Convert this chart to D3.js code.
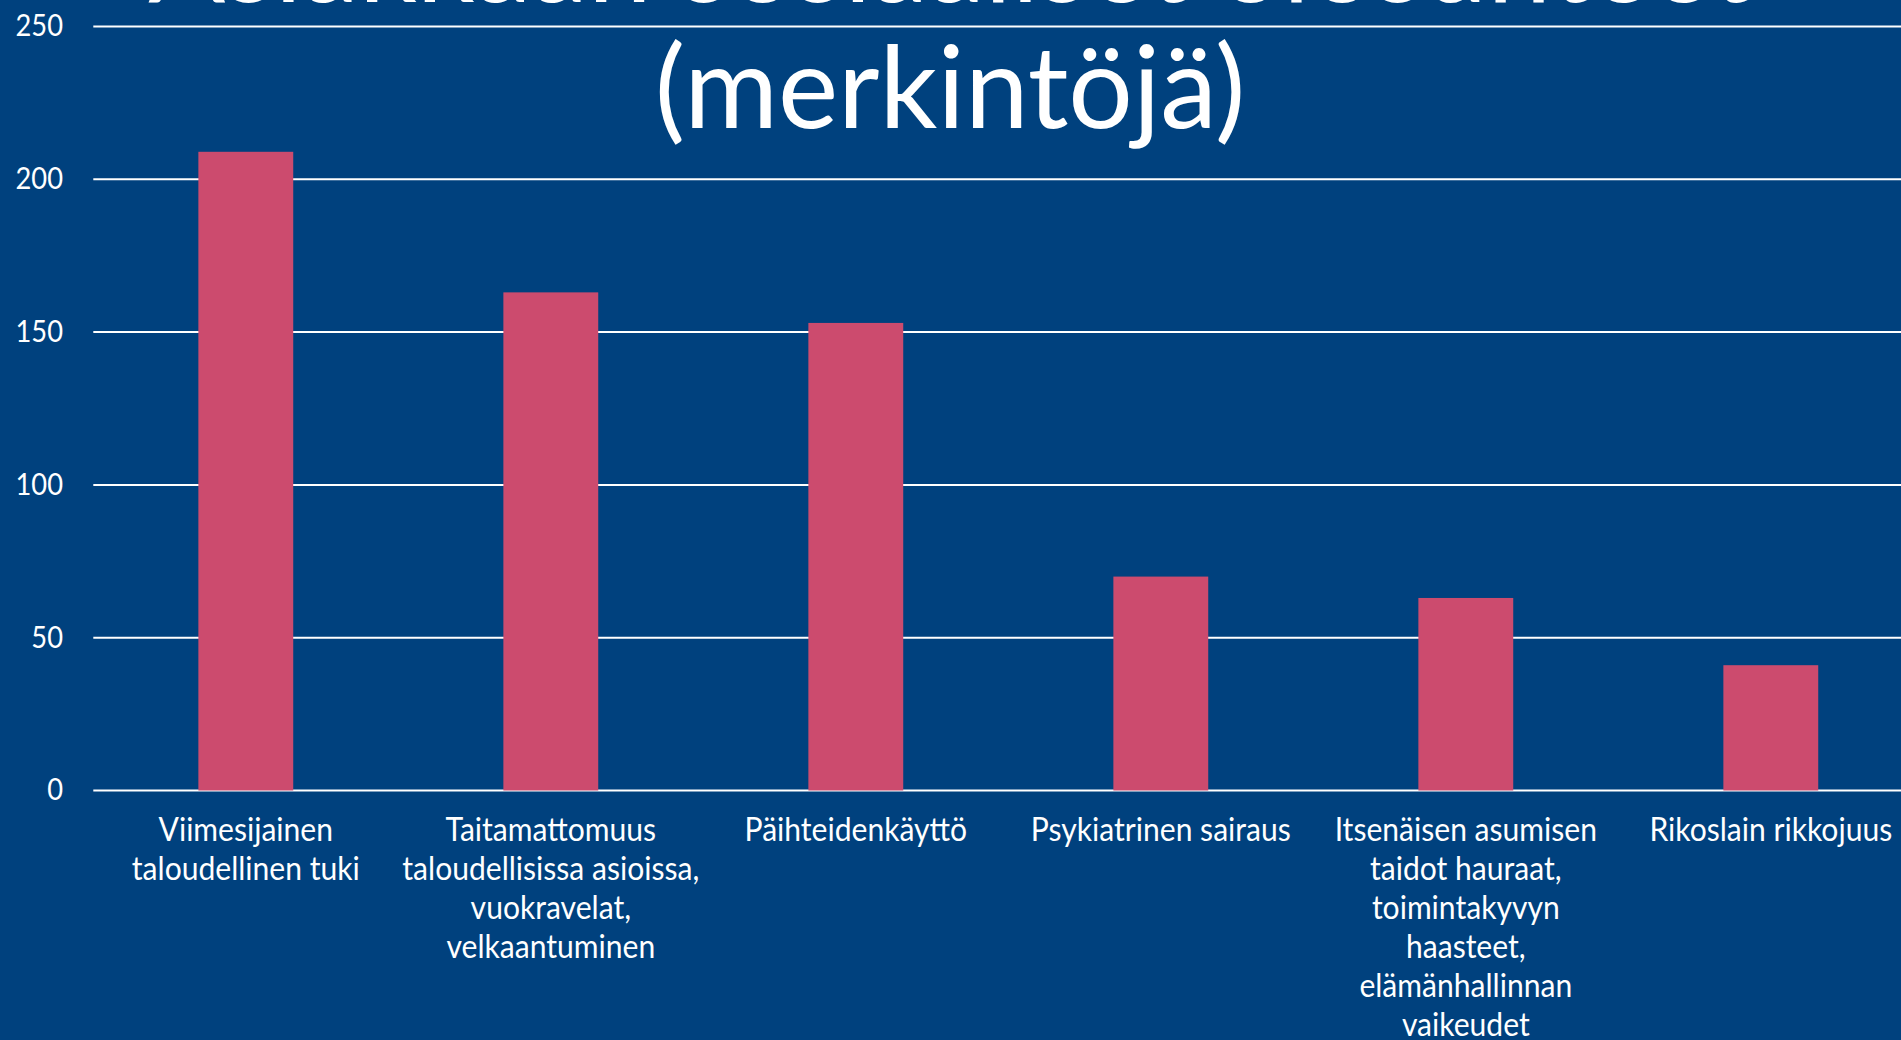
<!DOCTYPE html>
<html>
<meta charset="utf-8">
<head>
<title>Asiakkaan sosiaaliset olosuhteet</title>
<style>
body { margin: 0; background: #00417e; overflow: hidden; }
svg { display: block; }
text { font-family: Lato, "Open Sans", sans-serif; fill: #fff; }
.grid line { stroke: #fff; stroke-width: 2px; }
.bar { fill: #cc4b6e; }
</style>
</head>
<body>
<script src="https://d3js.org/d3.v7.min.js"></script>
<script>

// data
var categories = ["Viimesijainen taloudellinen tuki",
                  "Taitamattomuus taloudellisissa asioissa, vuokravelat, velkaantuminen",
                  "Päihteidenkäyttö",
                  "Psykiatrinen sairaus",
                  "Itsenäisen asumisen taidot hauraat, toimintakyvyn haasteet, elämänhallinnan vaikeudet",
                  "Rikoslain rikkojuus"];
var values = [209, 163, 153, 70, 63, 41];
var labelLines = [["Viimesijainen", "taloudellinen tuki"],
                  ["Taitamattomuus", "taloudellisissa asioissa,", "vuokravelat,", "velkaantuminen"],
                  ["Päihteidenkäyttö"],
                  ["Psykiatrinen sairaus"],
                  ["Itsenäisen asumisen", "taidot hauraat,", "toimintakyvyn", "haasteet,", "elämänhallinnan", "vaikeudet"],
                  ["Rikoslain rikkojuus"]];
var yTicks = [0, 50, 100, 150, 200, 250];
var titleLines = ["Asiakkaan sosiaaliset olosuhteet", "(merkintöjä)"];

var width = 1901, height = 1040;
var left = 93.3, right = 1923.3, y0 = 790.5, yTop = 26.5;

var x = d3.scaleBand().domain(categories).range([left, right])
          .paddingInner(0.689).paddingOuter(0.3445);
var y = d3.scaleLinear().domain([0, 250]).range([y0, yTop]);

var svg = d3.select("body").append("svg")
    .attr("width", width)
    .attr("height", height);

svg.append("rect").attr("width", width).attr("height", height).attr("fill", "#00417e");

// gridlines
var grid = svg.append("g").attr("class", "grid");
grid.selectAll("line").data(yTicks).enter().append("line")
    .attr("x1", left).attr("x2", width)
    .attr("y1", function(d){ return y(d); })
    .attr("y2", function(d){ return y(d); });

// y axis labels
svg.selectAll(".ytick").data(yTicks).enter().append("text")
    .attr("class", "ytick")
    .attr("transform", function(d){ return "translate(63," + y(d) + ") scale(0.88,1)"; })
    .attr("dy", "0.32em")
    .attr("text-anchor", "end")
    .style("font-size", "31px")
    .text(function(d){ return d; });

// title (first line is clipped at the top of the picture)
var title = svg.append("g").attr("transform", "translate(950,0)");
title.append("text")
    .attr("y", 2)
    .attr("text-anchor", "middle")
    .style("font-size", "114px")
    .text(titleLines[0]);
title.append("text")
    .attr("y", 128)
    .attr("text-anchor", "middle")
    .style("font-size", "114px")
    .text(titleLines[1]);

// bars
svg.selectAll(".bar").data(values).enter().append("rect")
    .attr("class", "bar")
    .attr("x", function(d, i){ return x(categories[i]); })
    .attr("width", x.bandwidth())
    .attr("y", function(d){ return y(d); })
    .attr("height", function(d){ return y0 - y(d); });

// category labels (the original font is a bit condensed)
var lab = svg.selectAll(".xlab").data(categories).enter().append("text")
    .attr("class", "xlab")
    .attr("text-anchor", "middle")
    .style("font-size", "32px")
    .attr("transform", function(d){ return "translate(" + (x(d) + x.bandwidth() / 2) + ",841) scale(0.94,1)"; });
lab.each(function(d, i){
  var t = d3.select(this);
  labelLines[i].forEach(function(line, j){
    t.append("tspan").attr("x", 0).attr("y", j * 39).text(line);
  });
});

</script>
</body>
</html>
